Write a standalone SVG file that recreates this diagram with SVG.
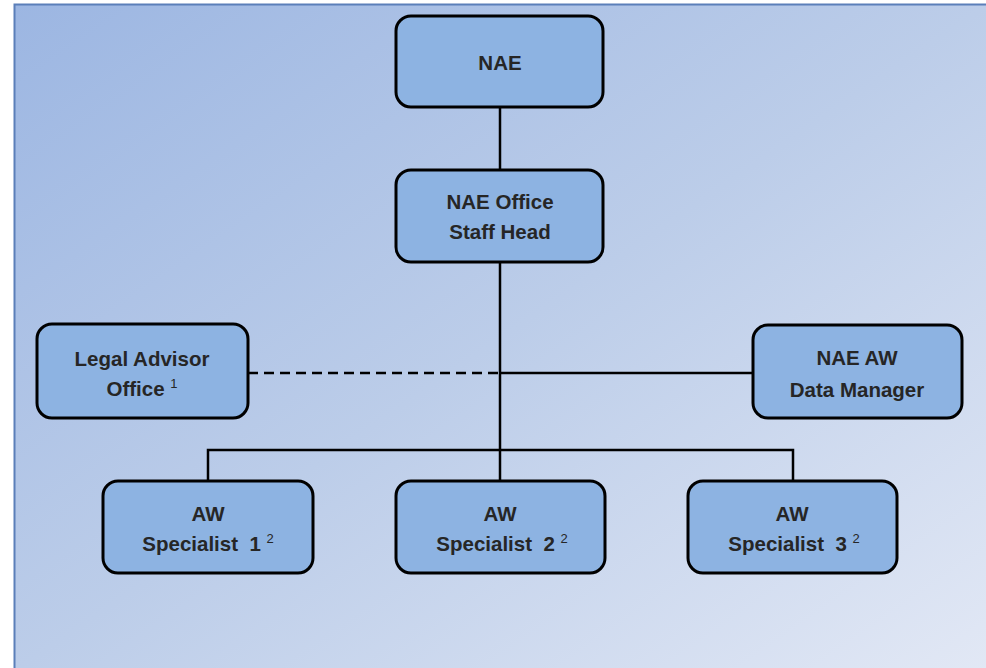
<svg xmlns="http://www.w3.org/2000/svg" width="986" height="668" viewBox="0 0 986 668">
<defs>
<linearGradient id="bg" x1="0" y1="0" x2="1" y2="1">
<stop offset="0" stop-color="#9cb6e2"/>
<stop offset="0.5" stop-color="#bccde9"/>
<stop offset="1" stop-color="#e2e8f5"/>
</linearGradient>
</defs>
<style>
.box{fill:#8db3e2;stroke:#000;stroke-width:3}
.t{font-family:"Liberation Sans",Arial,sans-serif;font-weight:bold;font-size:20.5px;fill:#262626;text-anchor:middle}
.sup{font-size:13px;font-weight:normal}
.c{stroke:#000;stroke-width:2.5;fill:none}
</style>
<rect x="0" y="0" width="986" height="668" fill="#fff"/>
<rect x="14" y="4" width="975" height="668" fill="url(#bg)"/>
<path d="M14.5 668 V4.5 H986" stroke="#5b7fb9" stroke-width="2" fill="none"/>
<g id="connectors">
<line class="c" x1="500" y1="107" x2="500" y2="170"/>
<line class="c" x1="500" y1="262" x2="500" y2="450"/>
<line class="c" x1="500" y1="373" x2="753" y2="373"/>
<line class="c" x1="248" y1="373" x2="500" y2="373" stroke-dasharray="10 6"/>
<path class="c" d="M208 481 V450 H793 V481"/>
<line class="c" x1="500" y1="450" x2="500" y2="481"/>
</g>
<g id="nae">
<rect class="box" x="396" y="16" width="207" height="91" rx="15"/>
<text class="t" x="500" y="70">NAE</text>
</g>
<g id="office">
<rect class="box" x="396" y="170" width="207" height="92" rx="15"/>
<text class="t" x="500" y="209">NAE Office</text>
<text class="t" x="500" y="239">Staff Head</text>
</g>
<g id="legal">
<rect class="box" x="37" y="324" width="211" height="94" rx="15"/>
<text class="t" x="142" y="366">Legal Advisor</text>
<text class="t" x="142" y="396">Office <tspan class="sup" dy="-8">1</tspan></text>
</g>
<g id="datamgr">
<rect class="box" x="753" y="325" width="209" height="93" rx="15"/>
<text class="t" x="857" y="365">NAE AW</text>
<text class="t" x="857" y="397">Data Manager</text>
</g>
<g id="spec1">
<rect class="box" x="103" y="481" width="210" height="92" rx="15"/>
<text class="t" x="208" y="521">AW</text>
<text class="t" x="208" y="551" xml:space="preserve">Specialist  1 <tspan class="sup" dy="-8">2</tspan></text>
</g>
<g id="spec2">
<rect class="box" x="396" y="481" width="209" height="92" rx="15"/>
<text class="t" x="500" y="521">AW</text>
<text class="t" x="502" y="551" xml:space="preserve">Specialist  2 <tspan class="sup" dy="-8">2</tspan></text>
</g>
<g id="spec3">
<rect class="box" x="688" y="481" width="209" height="92" rx="15"/>
<text class="t" x="792" y="521">AW</text>
<text class="t" x="794" y="551" xml:space="preserve">Specialist  3 <tspan class="sup" dy="-8">2</tspan></text>
</g>
</svg>
